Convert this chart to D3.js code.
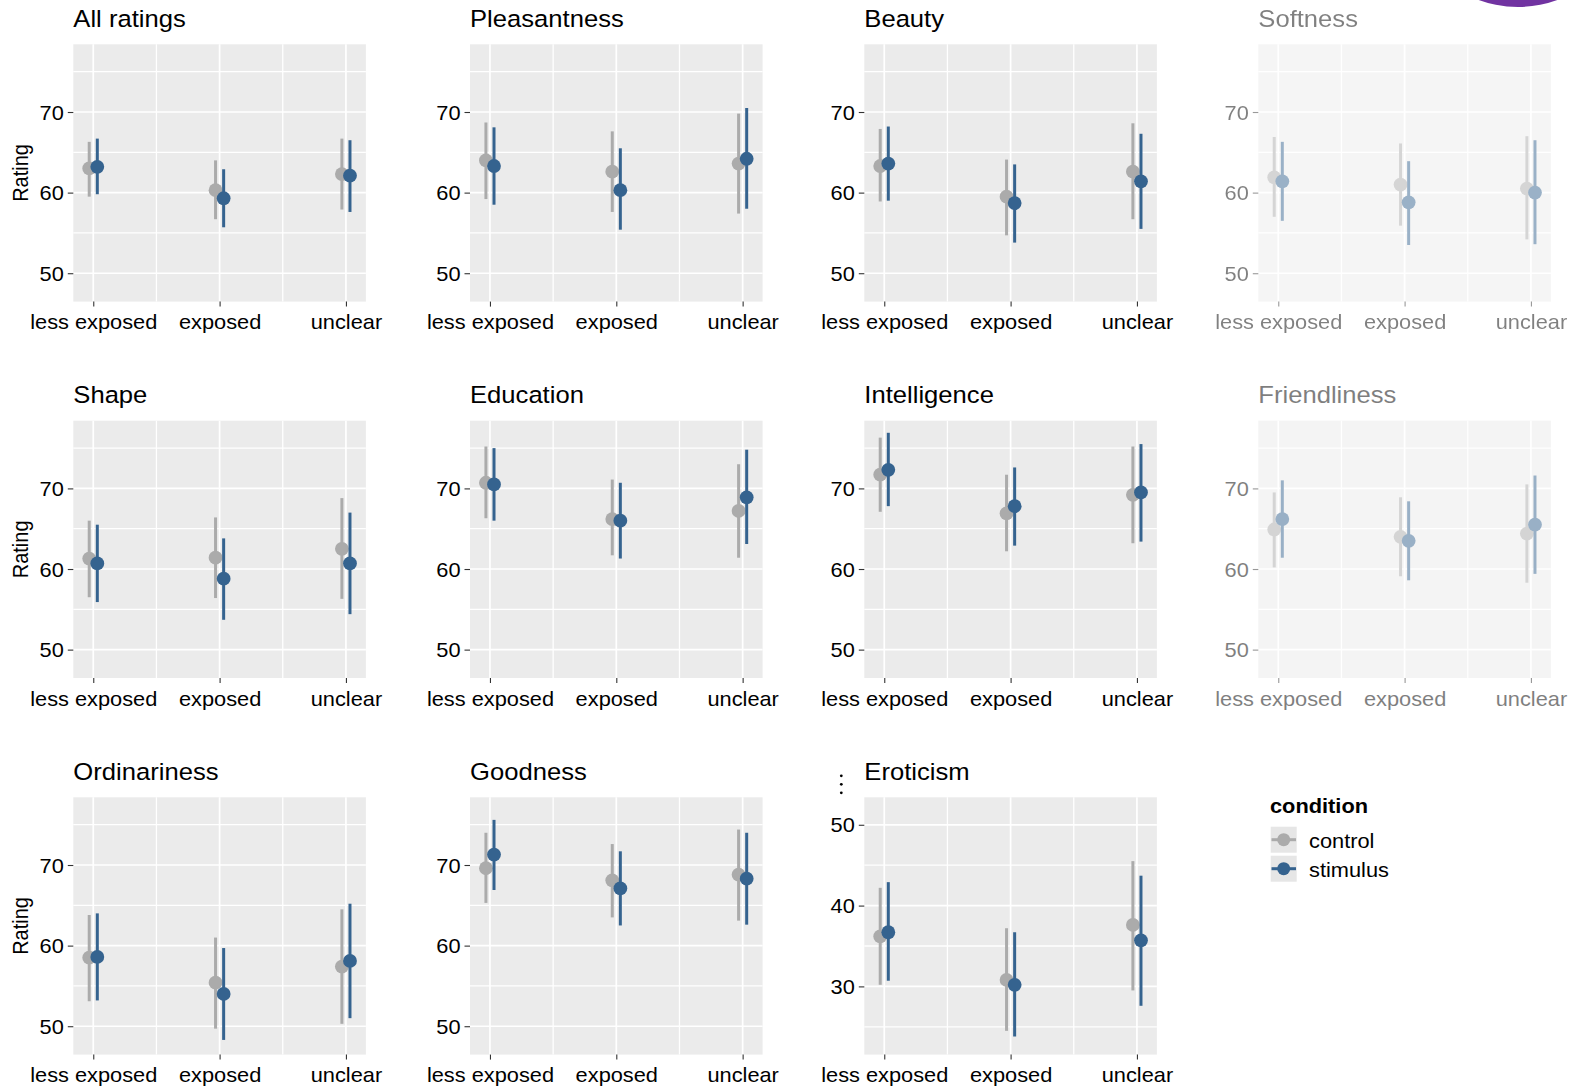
<!DOCTYPE html>
<html><head><meta charset="utf-8">
<script src="https://cdn.jsdelivr.net/npm/d3@7"></script>
<style>body{margin:0;background:#fff} text{font-family:"Liberation Sans",Arial,Helvetica,sans-serif}</style>
</head><body><svg id="c" width="1571" height="1089"></svg>
<script>
const categories = ["less exposed","exposed","unclear"];
const panelTitles = ["All ratings","Pleasantness","Beauty","Softness","Shape","Education","Intelligence","Friendliness","Ordinariness","Goodness","Eroticism"];
const fadedPanels = ["Softness","Friendliness"];
const conditions = ["control","stimulus"];
const controlMean = [[63.0,60.3,62.3],[64.0,62.6,63.6],[63.3,59.5,62.6],[61.9,61.0,60.5],[61.3,61.4,62.5],[70.7,66.2,67.2],[71.7,66.9,69.2],[64.9,64.0,64.4],[58.5,55.4,57.4],[69.6,68.1,68.8],[36.2,30.8,37.6]];
const controlLow = [[59.5,56.7,57.9],[59.2,57.6,57.4],[58.9,54.7,56.7],[57.0,55.9,54.2],[56.5,56.4,56.3],[66.3,61.7,61.4],[67.1,62.2,63.2],[60.2,59.1,58.3],[53.1,49.7,50.3],[65.3,63.5,63.1],[30.2,24.5,29.5]];
const controlHigh = [[66.3,64.0,66.7],[68.7,67.6,69.8],[67.9,64.1,68.6],[66.9,66.1,67.0],[66.0,66.4,68.8],[75.2,71.1,73.0],[76.3,71.7,75.2],[69.5,68.9,70.5],[63.8,61.0,64.5],[74.0,72.6,74.4],[42.2,37.2,45.5]];
const stimulusMean = [[63.2,59.3,62.1],[63.3,60.3,64.2],[63.6,58.7,61.4],[61.4,58.8,60.0],[60.7,58.8,60.7],[70.5,66.0,68.9],[72.3,67.8,69.5],[66.2,63.5,65.5],[58.6,54.0,58.1],[71.3,67.1,68.3],[36.7,30.2,35.7]];
const stimulusLow = [[59.8,55.7,57.6],[58.5,55.4,58.0],[59.0,53.8,55.5],[56.5,53.5,53.6],[55.9,53.7,54.4],[66.0,61.3,63.1],[67.8,62.9,63.4],[61.4,58.6,59.4],[53.2,48.3,51.0],[66.9,62.5,62.6],[30.7,23.8,27.6]];
const stimulusHigh = [[66.7,62.9,66.5],[68.1,65.5,70.5],[68.2,63.5,67.3],[66.3,63.9,66.5],[65.5,63.8,67.0],[75.0,70.7,74.8],[76.9,72.6,75.5],[71.0,68.4,71.6],[64.0,59.7,65.2],[75.6,71.7,74.0],[42.9,36.7,43.7]];
const yTicks = [50,60,70];
const yMinor = [55,65,75];
const yTicksErot = [30,40,50];
const yMinorErot = [25,35,45];
const yDomain = [46.48,78.4];
const yDomainErot = [21.56,53.4];

const colors = {control:"#ababab", stimulus:"#35638f"};
const TX = 1.09; // horizontal text stretch
const colX = [73.3, 470, 864.3, 1258.3];
const rowY = [44.3, 420.7, 797.3];
const pw = 292.6, ph = 257.3;

const svg = d3.select("#c");

// purple badge partially visible at top-right
svg.append("circle").attr("cx",1518).attr("cy",-107).attr("r",114).attr("fill","#7133a1");

const x = d3.scalePoint().domain(categories).range([0,pw]).padding(0.158);
const step = x.step();
const dodge = 0.032*step;

panelTitles.forEach((title,i)=>{
  const col = i%4, row = Math.floor(i/4);
  const isErot = title==="Eroticism";
  const y = d3.scaleLinear().domain(isErot?yDomainErot:yDomain).range([ph,0]);
  const g = svg.append("g").attr("transform",`translate(${colX[col]},${rowY[row]})`);
  if (fadedPanels.includes(title)) g.attr("opacity",0.5);

  g.append("rect").attr("width",pw).attr("height",ph).attr("fill","#ebebeb");
  // minor grid
  (isErot?yMinorErot:yMinor).forEach(v=>{
    g.append("line").attr("x1",0).attr("x2",pw).attr("y1",y(v)).attr("y2",y(v)).attr("stroke","#fff").attr("stroke-width",1.3);
  });
  categories.slice(0,-1).forEach(c=>{
    const xm = x(c)+step/2;
    g.append("line").attr("x1",xm).attr("x2",xm).attr("y1",0).attr("y2",ph).attr("stroke","#fff").attr("stroke-width",1.3);
  });
  // major grid
  (isErot?yTicksErot:yTicks).forEach(v=>{
    g.append("line").attr("x1",0).attr("x2",pw).attr("y1",y(v)).attr("y2",y(v)).attr("stroke","#fff").attr("stroke-width",1.7);
  });
  categories.forEach(c=>{
    g.append("line").attr("x1",x(c)).attr("x2",x(c)).attr("y1",0).attr("y2",ph).attr("stroke","#fff").attr("stroke-width",1.7);
  });

  // axes
  const ya = g.append("g").call(d3.axisLeft(y).tickValues(isErot?yTicksErot:yTicks).tickSize(5.5).tickPadding(3.5));
  ya.select(".domain").remove();
  ya.selectAll(".tick line").attr("stroke","#333").attr("stroke-width",1.1);
  ya.selectAll(".tick text").attr("font-size",20).attr("fill","#000")
    .attr("font-family","Liberation Sans, Arial, sans-serif")
    .attr("transform",`scale(${TX},1)`).attr("x",-9.5/TX).attr("dy","0.36em");
  const xa = g.append("g").attr("transform",`translate(0,${ph})`).call(d3.axisBottom(x).tickSize(5).tickPadding(8));
  xa.select(".domain").remove();
  xa.selectAll(".tick line").attr("stroke","#333").attr("stroke-width",1.1);
  xa.selectAll(".tick text").attr("font-size",20).attr("fill","#000")
    .attr("font-family","Liberation Sans, Arial, sans-serif")
    .attr("transform",`scale(${TX},1)`).attr("dy","0.74em");

  // title
  g.append("text").attr("transform",`translate(0,${-17.6}) scale(${TX},1)`)
    .attr("font-size",23.5).attr("fill","#000").text(title);

  if (col===0) {
    g.append("text").attr("transform",`translate(${27.5-colX[0]},${ph/2}) rotate(-90) scale(1,${TX})`)
      .attr("text-anchor","middle").attr("font-size",20).attr("fill","#000").text("Rating");
  }
  if (isErot) {
    [0,1,2].forEach(k=>g.append("circle").attr("cx",-23).attr("cy",-21.5+k*8.5).attr("r",1.4).attr("fill","#000"));
  }

  // data
  const series = [
    {cond:"control", m:controlMean[i], lo:controlLow[i], hi:controlHigh[i], off:-dodge},
    {cond:"stimulus", m:stimulusMean[i], lo:stimulusLow[i], hi:stimulusHigh[i], off:dodge}
  ];
  series.forEach(s=>{
    categories.forEach((c,j)=>{
      const cx = x(c)+s.off;
      g.append("line").attr("x1",cx).attr("x2",cx).attr("y1",y(s.lo[j])).attr("y2",y(s.hi[j]))
        .attr("stroke",colors[s.cond]).attr("stroke-width",3);
      g.append("circle").attr("cx",cx).attr("cy",y(s.m[j])).attr("r",6.9).attr("fill",colors[s.cond]);
    });
  });
});

// legend
const lg = svg.append("g").attr("transform","translate(1270,0)");
lg.append("text").attr("transform",`translate(0,812.5) scale(${TX},1)`).attr("font-size",20).attr("font-weight","bold").attr("fill","#000").text("condition");
conditions.forEach((c,k)=>{
  const ky = 826.7 + k*29;
  lg.append("rect").attr("x",0.7).attr("y",ky).attr("width",26).attr("height",26).attr("fill","#e6e6e6");
  lg.append("line").attr("x1",1.5).attr("x2",26).attr("y1",ky+13).attr("y2",ky+13).attr("stroke",colors[c]).attr("stroke-width",3);
  lg.append("circle").attr("cx",13.7).attr("cy",ky+13).attr("r",6.5).attr("fill",colors[c]);
  lg.append("text").attr("transform",`translate(39,${ky+21.5}) scale(${TX},1)`).attr("font-size",20).attr("fill","#000").text(c);
});
</script></body></html>
